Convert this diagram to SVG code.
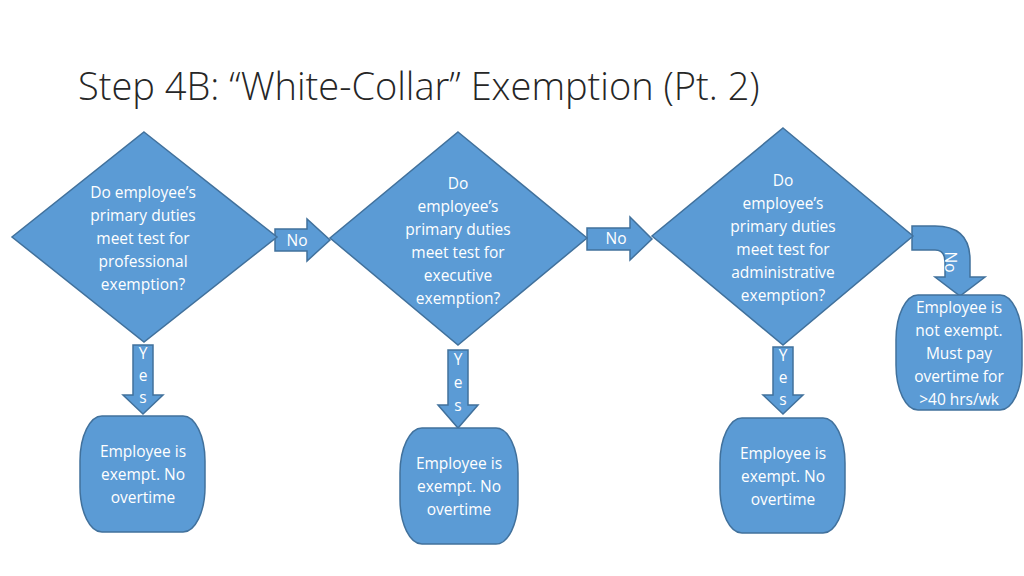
<svg xmlns="http://www.w3.org/2000/svg" width="1024" height="576" viewBox="0 0 1024 576">
<style>
.s{fill:#5b9bd5;stroke:#41719c;stroke-width:1.5}
.t{font-family:"Open Sans","Liberation Sans",sans-serif;font-size:15.5px;fill:#fff;text-anchor:middle}
.title{font-family:"Open Sans","Liberation Sans",sans-serif;font-weight:300;font-size:38px;fill:#262626}
</style>
<rect width="1024" height="576" fill="#fff"/>
<text class="title" x="78" y="100">Step 4B: “White-Collar” Exemption (Pt. 2)</text>
<g id="connectors">
<path class="s" d="M275,229 H307 V219 L330,240 L307,261 V251 H275 Z"/>
<text class="t" x="297" y="246">No</text>
<path class="s" d="M587,228 H630 V217 L652,239 L630,260 V250 H587 Z"/>
<text class="t" x="616" y="244">No</text>
<path class="s" d="M912,226 H935 Q970,226 970,260 V277 H985 L960,296 L935,277 H945 V262 Q945,250 935,250 H912 Z"/>
<text class="t" transform="translate(945,262) rotate(90)" x="0" y="0">No</text>
<path class="s" d="M133,345 H153 V395 H163 L143,414 L123,395 H133 Z"/>
<text class="t" x="143" y="359">Y</text><text class="t" x="143" y="381">e</text><text class="t" x="143" y="403">s</text>
<path class="s" d="M448,350 H468 V405 H478 L458,428 L438,405 H448 Z"/>
<text class="t" x="458" y="365">Y</text><text class="t" x="458" y="388">e</text><text class="t" x="458" y="411">s</text>
<path class="s" d="M773,347 H793 V395 H803 L783,414 L763,395 H773 Z"/>
<text class="t" x="783" y="361">Y</text><text class="t" x="783" y="383">e</text><text class="t" x="783" y="405">s</text>
</g>
<g id="d1"><path class="s" d="M144,132 L277,237 L144,342 L12,237 Z"/>
<text class="t" x="143" y="198">Do employee’s</text><text class="t" x="143" y="221">primary duties</text><text class="t" x="143" y="244">meet test for</text><text class="t" x="143" y="267">professional</text><text class="t" x="143" y="290">exemption?</text></g>
<g id="d2"><path class="s" d="M458,132 L587,238 L458,345 L330,238 Z"/>
<text class="t" x="458" y="189">Do</text><text class="t" x="458" y="212">employee’s</text><text class="t" x="458" y="235">primary duties</text><text class="t" x="458" y="258">meet test for</text><text class="t" x="458" y="281">executive</text><text class="t" x="458" y="304">exemption?</text></g>
<g id="d3"><path class="s" d="M783,128 L913,236 L783,345 L652,236 Z"/>
<text class="t" x="783" y="186">Do</text><text class="t" x="783" y="209">employee’s</text><text class="t" x="783" y="232">primary duties</text><text class="t" x="783" y="255">meet test for</text><text class="t" x="783" y="278">administrative</text><text class="t" x="783" y="301">exemption?</text></g>
<g id="b1"><rect class="s" x="80" y="416" width="125" height="116" rx="22" ry="45"/>
<text class="t" x="143" y="457">Employee is</text><text class="t" x="143" y="480">exempt.  No</text><text class="t" x="143" y="503">overtime</text></g>
<g id="b2"><rect class="s" x="400" y="428" width="118" height="116" rx="22" ry="45"/>
<text class="t" x="459" y="469">Employee is</text><text class="t" x="459" y="492">exempt.  No</text><text class="t" x="459" y="515">overtime</text></g>
<g id="b3"><rect class="s" x="720" y="418" width="125" height="115" rx="22" ry="45"/>
<text class="t" x="783" y="459">Employee is</text><text class="t" x="783" y="482">exempt.  No</text><text class="t" x="783" y="505">overtime</text></g>
<g id="b4"><rect class="s" x="896" y="295" width="126" height="115" rx="22" ry="45"/>
<text class="t" x="959" y="313">Employee is</text><text class="t" x="959" y="336">not exempt.</text><text class="t" x="959" y="359">Must pay</text><text class="t" x="959" y="382">overtime for</text><text class="t" x="959" y="405">&gt;40 hrs/wk</text></g>
</svg>
